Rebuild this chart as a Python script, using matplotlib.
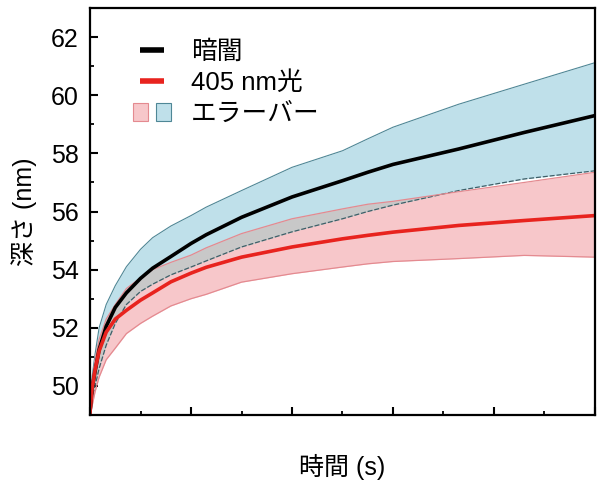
import matplotlib
matplotlib.use('Agg')
import matplotlib.pyplot as plt
import numpy as np
from matplotlib.lines import Line2D
from matplotlib.patches import Patch
from matplotlib.legend_handler import HandlerTuple
from matplotlib.ticker import MultipleLocator, NullFormatter

plt.rcParams['font.family'] = ['Liberation Sans', 'Noto Sans CJK JP']

# values (x axis has no tick labels, arbitrary units)
time_s = [0, 0.02, 0.05, 0.09, 0.16, 0.25, 0.36, 0.5, 0.62, 0.8, 1.0, 1.15,
          1.5, 2.0, 2.5, 2.75, 3.0, 3.65, 4.3, 5.0]
dark_mean = [49.1, 49.9, 50.5, 51.25, 52.05, 52.7, 53.2, 53.7, 54.05, 54.45, 54.9,
             55.2, 55.8, 56.5, 57.06, 57.35, 57.62, 58.15, 58.72, 59.3]
dark_upper = [49.2, 50.3, 51.1, 52.0, 52.8, 53.45, 54.1, 54.7, 55.1, 55.5, 55.86,
              56.15, 56.72, 57.52, 58.09, 58.5, 58.9, 59.69, 60.38, 61.12]
dark_lower = [49.0, 49.6, 50.0, 50.6, 51.4, 52.15, 52.8, 53.25, 53.5, 53.82, 54.09,
              54.3, 54.78, 55.3, 55.75, 56.0, 56.22, 56.72, 57.12, 57.4]
light_mean = [49.1, 49.9, 50.55, 51.2, 51.85, 52.3, 52.6, 52.95, 53.2, 53.58, 53.88,
              54.08, 54.43, 54.78, 55.06, 55.18, 55.29, 55.52, 55.69, 55.86]
light_upper = [49.2, 50.1, 50.9, 51.6, 52.3, 52.8, 53.35, 53.72, 54.0, 54.25, 54.5,
               54.75, 55.24, 55.75, 56.09, 56.25, 56.35, 56.68, 57.0, 57.35]
light_lower = [49.0, 49.3, 49.8, 50.3, 50.9, 51.3, 51.8, 52.15, 52.4, 52.75, 53.0,
               53.15, 53.57, 53.86, 54.09, 54.2, 54.28, 54.38, 54.49, 54.43]

labels = ['暗闇', '405 nm光', 'エラーバー']

blue_fill = '#bfe0ea'
blue_edge = '#4f8796'
pink_fill = '#f7c7ca'
pink_edge = '#e48a90'
gray_fill = '#c8c8c8'

t = np.array(time_s)
du, dl = np.array(dark_upper), np.array(dark_lower)
lu, ll = np.array(light_upper), np.array(light_lower)

fig = plt.figure(figsize=(5.97, 4.83), dpi=100)
ax = fig.add_axes([0.1508, 0.1408, 0.8458, 0.8426])

ax.fill_between(t, dl, du, color=blue_fill, lw=0)
ax.fill_between(t, ll, lu, color=pink_fill, lw=0)
lo = np.maximum(dl, ll)
hi = np.minimum(du, lu)
ax.fill_between(t, lo, hi, where=hi > lo, interpolate=True, color=gray_fill, lw=0)

ax.plot(t, du, color=blue_edge, lw=0.8)
ax.plot(t, dl, color='#3d5f68', lw=0.9, ls=(0, (4, 1.5)))
ax.plot(t, lu, color=pink_edge, lw=0.9)
ax.plot(t, ll, color=pink_edge, lw=0.9)

ax.plot(t, dark_mean, color='black', lw=2.6)
ax.plot(t, light_mean, color='#e8231e', lw=2.6)

ax.set_xlim(0, 5)
ax.set_ylim(49, 63)
ax.yaxis.set_major_locator(MultipleLocator(2))
ax.yaxis.set_minor_locator(MultipleLocator(1))
ax.xaxis.set_major_locator(MultipleLocator(1))
ax.xaxis.set_minor_locator(MultipleLocator(0.5))
ax.xaxis.set_major_formatter(NullFormatter())

ax.tick_params(which='major', direction='in', length=6, width=1.5, labelsize=18, pad=8)
ax.tick_params(which='minor', direction='in', length=3, width=1.3)
for s in ax.spines.values():
    s.set_linewidth(1.6)

ax.set_ylabel('深さ (nm)', fontsize=18, labelpad=10)
ax.set_xlabel('時間 (s)', fontsize=18, labelpad=20)

h_dark = Line2D([], [], ls='none', marker='_', ms=17, mew=4, color='black')
h_light = Line2D([], [], ls='none', marker='_', ms=17, mew=4, color='#e8231e')
h_err = (Patch(fc=pink_fill, ec=pink_edge, lw=0.8), Patch(fc=blue_fill, ec=blue_edge, lw=0.8))
ax.legend([h_dark, h_light, h_err], labels, loc='upper left', bbox_to_anchor=(0.085, 0.922),
          frameon=False, fontsize=18.5, handlelength=1.5, handletextpad=0.75,
          labelspacing=0.27, borderpad=0, borderaxespad=0, numpoints=1,
          handler_map={tuple: HandlerTuple(ndivide=None, pad=0.3)})

fig.savefig('out.png', dpi=100)
